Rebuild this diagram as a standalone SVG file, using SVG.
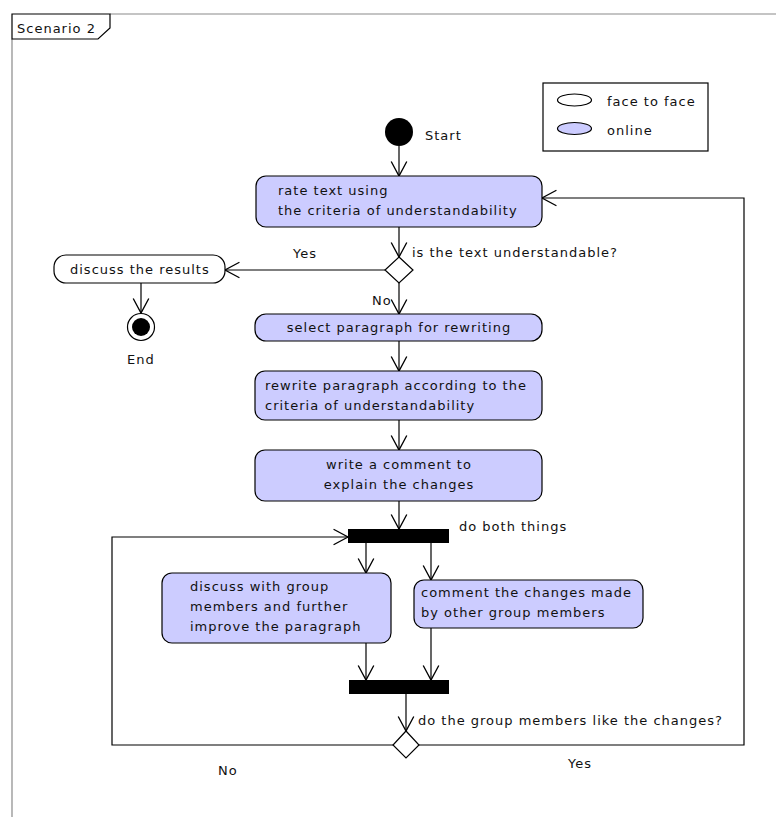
<svg xmlns="http://www.w3.org/2000/svg" width="776" height="817" viewBox="0 0 776 817">
<style>
text{font-family:"DejaVu Sans",Verdana,sans-serif;font-size:13px;letter-spacing:1px;fill:#111}
.act{fill:#ccccff;stroke:#000;stroke-width:1.2}
.ff{fill:#fff;stroke:#000;stroke-width:1.2}
.c{text-anchor:middle}
.ln{fill:none;stroke:#000;stroke-width:1.2}
.bar{fill:#000}
</style>
<defs>
<marker id="ah" markerUnits="userSpaceOnUse" markerWidth="20" markerHeight="20" viewBox="-15 -9 18 18" refX="0" refY="0" orient="auto" overflow="visible">
<path d="M-13,-7 L0,0 L-13,7" fill="none" stroke="#000" stroke-width="1.2"/>
</marker>
</defs>
<rect width="776" height="817" fill="#fff"/>
<g id="frame">
<path d="M110,14 H776 M12,39 V817" fill="none" stroke="#8a8a8a" stroke-width="1.2"/>
<polygon points="12,14 110,14 110,28 98,39 12,39" fill="#fff" stroke="#000" stroke-width="1.2"/>
<text x="17" y="33">Scenario 2</text>
</g>
<g id="legend">
<rect x="543" y="83" width="165" height="68" fill="#fff" stroke="#000" stroke-width="1.2"/>
<ellipse cx="574.5" cy="100" rx="17" ry="6" class="ff"/>
<text x="607" y="106">face to face</text>
<ellipse cx="574.5" cy="128.5" rx="17" ry="6" class="act"/>
<text x="607" y="135">online</text>
</g>
<g id="connectors">
<path class="ln" d="M399,146 V176" marker-end="url(#ah)"/>
<path class="ln" d="M399,227 V257" marker-end="url(#ah)"/>
<path class="ln" d="M385,270 H225" marker-end="url(#ah)"/>
<path class="ln" d="M141,283 V313" marker-end="url(#ah)"/>
<path class="ln" d="M399,283 V314" marker-end="url(#ah)"/>
<path class="ln" d="M399,341 V371" marker-end="url(#ah)"/>
<path class="ln" d="M399,420 V450" marker-end="url(#ah)"/>
<path class="ln" d="M399,501 V529" marker-end="url(#ah)"/>
<path class="ln" d="M366,543 V573" marker-end="url(#ah)"/>
<path class="ln" d="M431,543 V580" marker-end="url(#ah)"/>
<path class="ln" d="M366,643 V680" marker-end="url(#ah)"/>
<path class="ln" d="M431,628 V680" marker-end="url(#ah)"/>
<path class="ln" d="M406,694 V731" marker-end="url(#ah)"/>
<path class="ln" d="M393,745 H112 V537 H348" marker-end="url(#ah)"/>
<path class="ln" d="M419,745 H744 V198 H542" marker-end="url(#ah)"/>
<text x="293" y="258">Yes</text>
<text x="372" y="305">No</text>
<text x="412" y="257">is the text understandable?</text>
<text x="459" y="531">do both things</text>
<text x="418" y="725">do the group members like the changes?</text>
<text x="218" y="775">No</text>
<text x="568" y="768">Yes</text>
</g>
<g id="start">
<circle cx="399" cy="132" r="14" fill="#000"/>
<text x="425" y="140">Start</text>
</g>
<g id="rate">
<rect x="256" y="176" width="286" height="51" rx="10" class="act"/>
<text x="278" y="195">rate text using</text>
<text x="278" y="215">the criteria of understandability</text>
</g>
<g id="decision1">
<polygon points="399,257 413,270 399,283 385,270" class="ff"/>
</g>
<g id="discussResults">
<rect x="54" y="255" width="171" height="28" rx="12" class="ff"/>
<text x="70" y="274">discuss the results</text>
</g>
<g id="end">
<circle cx="141" cy="327" r="13.5" class="ff"/>
<circle cx="141" cy="327" r="9" fill="#000"/>
<text x="127" y="364">End</text>
</g>
<g id="select">
<rect x="255" y="314" width="287" height="27" rx="11" class="act"/>
<text x="399" y="332" class="c">select paragraph for rewriting</text>
</g>
<g id="rewrite">
<rect x="255" y="371" width="287" height="49" rx="10" class="act"/>
<text x="265" y="390">rewrite paragraph according to the</text>
<text x="265" y="410">criteria of understandability</text>
</g>
<g id="comment">
<rect x="255" y="450" width="287" height="51" rx="10" class="act"/>
<text x="399" y="469" class="c">write a comment to</text>
<text x="399" y="489" class="c">explain the changes</text>
</g>
<g id="fork">
<rect x="348" y="529" width="101" height="14" class="bar"/>
</g>
<g id="discussGroup">
<rect x="162" y="573" width="229" height="70" rx="10" class="act"/>
<text x="190" y="591">discuss with group</text>
<text x="190" y="611">members and further</text>
<text x="190" y="631">improve the paragraph</text>
</g>
<g id="commentOthers">
<rect x="414" y="580" width="229" height="48" rx="10" class="act"/>
<text x="421" y="597">comment the changes made</text>
<text x="421" y="617">by other group members</text>
</g>
<g id="join">
<rect x="349" y="680" width="100" height="14" class="bar"/>
</g>
<g id="decision2">
<polygon points="406,731 419,745 406,758 393,745" class="ff"/>
</g>
</svg>
